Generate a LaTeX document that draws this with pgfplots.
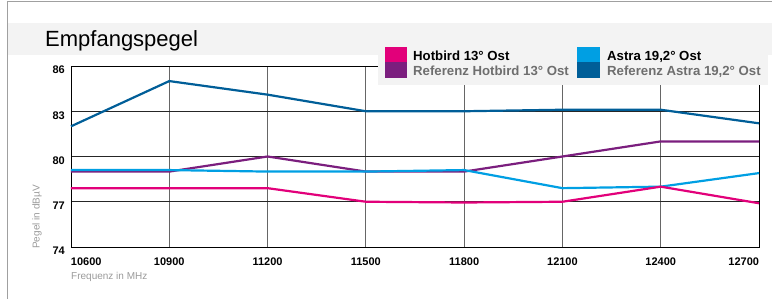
\documentclass[border=0pt]{standalone}
\usepackage{pgfplots}
\pgfplotsset{compat=1.18}
\usepackage{fontspec}
\setmainfont{Liberation Sans}
\definecolor{hot}{HTML}{E2007A}
\definecolor{hotref}{HTML}{7B1E7E}
\definecolor{astra}{HTML}{009FE3}
\definecolor{astraref}{HTML}{005E98}
\definecolor{band}{HTML}{F3F3F3}
\definecolor{frame}{HTML}{A0A0A0}
\definecolor{reftxt}{HTML}{6E6E6E}
\definecolor{lbl}{HTML}{9A9A9A}
\begin{document}
\begin{tikzpicture}[x=1pt,y=1pt]
\useasboundingbox (0,0) rectangle (772,299);
% title band
\fill[band] (7,244) rectangle (772,276);
\draw[frame,line width=1pt] (7,0) -- (7,297) -- (772,297);
\node[anchor=base west,inner sep=0pt,font=\fontsize{22}{25}\selectfont] at (45,252) {Empfangspegel};
\begin{axis}[
  at={(71pt,52pt)}, anchor=south west,
  scale only axis, width=688pt, height=181pt,
  xmin=10600, xmax=12700, ymin=74, ymax=86,
  scaled x ticks=false, scaled y ticks=false,
  xtick={10600,10900,11200,11500,11800,12100,12400,12700},
  xticklabels={\makebox[0pt][l]{10600},10900,11200,11500,11800,12100,12400,\makebox[0pt][r]{12700}},
  ytick={74,77,80,83,86},
  major tick length=0pt,
  /pgf/number format/assume math mode=true,
  xticklabel style={font=\bfseries\fontsize{11}{13}\selectfont, anchor=north, inner sep=0pt, yshift=-11pt},
  yticklabel style={font=\bfseries\fontsize{11}{13}\selectfont, anchor=east, inner sep=0pt, xshift=-6pt, yshift=-4pt},
  axis line style={black, line width=0.9pt},
  xmajorgrids, ymajorgrids,
  x grid style={black!60, line width=0.9pt},
  y grid style={black!85, line width=0.9pt},
  clip=false,
]
\addplot[astraref, line width=2.2pt] coordinates {(10600,82) (10900,85) (11200,84.1) (11500,83) (11800,83) (12100,83.1) (12400,83.1) (12700,82.2)};
\addplot[hotref, line width=2.2pt] coordinates {(10600,79) (10900,79) (11200,80) (11500,79) (11800,79) (12100,80) (12400,81) (12700,81)};
\addplot[astra, line width=2.2pt] coordinates {(10600,79.1) (10900,79.1) (11200,79) (11500,79) (11800,79.1) (12100,77.9) (12400,78) (12700,78.9)};
\addplot[hot, line width=2.2pt] coordinates {(10600,77.9) (10900,77.9) (11200,77.9) (11500,77) (11800,76.95) (12100,77) (12400,78) (12700,76.9)};
\end{axis}
% legend box
\fill[band] (378,214) rectangle (768,244);
\fill[hot] (385,237) rectangle (407,252);
\fill[hotref] (385,221) rectangle (407,237);
\fill[astra] (577,237) rectangle (600,252);
\fill[astraref] (577,221) rectangle (600,237);
\node[anchor=base west,inner sep=0pt,font=\bfseries\fontsize{13.2}{15}\selectfont] at (413,238) {Hotbird 13° Ost};
\node[anchor=base west,inner sep=0pt,font=\bfseries\fontsize{13.2}{15}\selectfont,text=reftxt] at (413,223) {Referenz Hotbird 13° Ost};
\node[anchor=base west,inner sep=0pt,font=\bfseries\fontsize{13.2}{15}\selectfont] at (607,238) {Astra 19,2° Ost};
\node[anchor=base west,inner sep=0pt,font=\bfseries\fontsize{13.2}{15}\selectfont,text=reftxt] at (607,223) {Referenz Astra 19,2° Ost};
% axis labels
\node[anchor=base west,inner sep=0pt,font=\fontsize{10}{12}\selectfont,text=lbl] at (71,19) {Frequenz in MHz};
\node[rotate=90,inner sep=0pt,font=\fontsize{10}{12}\selectfont,text=lbl] at (37,82) {Pegel in dBµV};
\end{tikzpicture}
\end{document}
